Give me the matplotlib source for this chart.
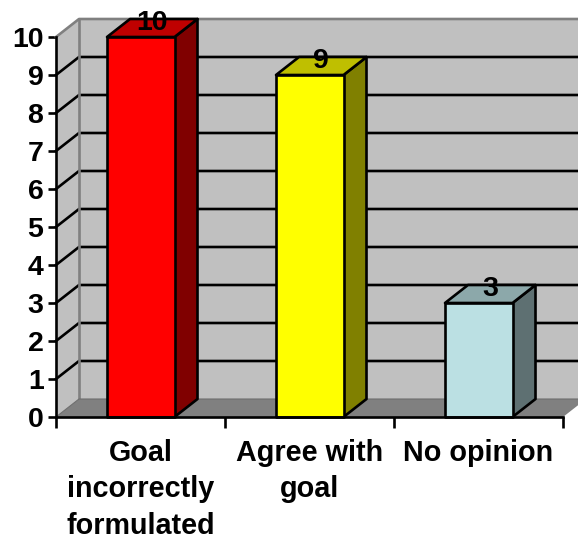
import matplotlib
matplotlib.use("Agg")
import matplotlib.pyplot as plt
from matplotlib.patches import Polygon

plt.rcParams["font.family"] = ["Liberation Sans", "DejaVu Sans"]
plt.rcParams["font.weight"] = "bold"

# chart values
categories = ["Goal\nincorrectly\nformulated", "Agree with\ngoal", "No opinion"]
values = [10, 9, 3]
y_ticks = list(range(0, 11))

# face, top and side shades for each bar
front_colors = ["#FF0000", "#FFFF00", "#BBE0E3"]
top_colors = ["#BF0000", "#BFBF00", "#8CA8AA"]
side_colors = ["#800000", "#808000", "#5E7072"]

W, H = 578, 538
LW = 1.9
fig = plt.figure(figsize=(W / 100, H / 100), dpi=100, facecolor="white")
ax = fig.add_axes([56 / W, 1 - 417 / H, (563 - 56) / W, (417 - 37) / H])
ax.set_xlim(0, 3)
ax.set_ylim(0, 10)
ax.patch.set_visible(False)

# oblique depth in data units (23 px across, 18 px up)
DX = 23 / 169
DY = 18 / 38
BAR_W = 67.5 / 169
BAR_OFF = 51 / 169


def poly(pts, fc, ec="none", lw=0, z=1):
    ax.add_patch(Polygon(pts, closed=True, facecolor=fc, edgecolor=ec, linewidth=lw,
                         zorder=z, clip_on=False, joinstyle="round"))


# walls and floor
GREY = "#808080"
poly([(DX, DY), (3 + DX, DY), (3 + DX, 10 + DY), (DX, 10 + DY)], "#C0C0C0")
poly([(0, 0), (DX, DY), (DX, 10 + DY), (0, 10)], "#C0C0C0")
poly([(0, 0), (3, 0), (3 + DX, DY), (DX, DY)], GREY)

# gridlines run along the side wall and across the back wall
for v in y_ticks[1:-1]:
    ax.plot([0, DX, 3 + DX], [v, v + DY, v + DY], color="black", lw=LW, zorder=2,
            clip_on=False, solid_joinstyle="miter")

# wall outline
ax.plot([0, DX, 3 + DX], [10, 10 + DY, 10 + DY], color=GREY, lw=LW, zorder=2, clip_on=False)
ax.plot([DX, DX], [DY, 10 + DY], color=GREY, lw=LW, zorder=2, clip_on=False)
ax.plot([0, DX, 3 + DX], [0, DY, DY], color="#6E6E6E", lw=0.8, zorder=2, clip_on=False)

# bars
for i, v in enumerate(values):
    x0 = i + BAR_OFF
    x1 = x0 + BAR_W
    poly([(x1, 0), (x1 + DX, DY), (x1 + DX, v + DY), (x1, v)], side_colors[i], "black", LW, 3)
    poly([(x0, v), (x1, v), (x1 + DX, v + DY), (x0 + DX, v + DY)], top_colors[i], "black", LW, 3)
    poly([(x0, 0), (x1, 0), (x1, v), (x0, v)], front_colors[i], "black", LW, 4)
    ax.text((x0 + x1) / 2 + DX / 2, v + 0.37, str(v), ha="center", va="center",
            fontsize=20.5, fontweight="bold", color="black", zorder=6, clip_on=False)

# axes
for s in ["top", "right"]:
    ax.spines[s].set_visible(False)
for s in ["left", "bottom"]:
    ax.spines[s].set_linewidth(LW)
    ax.spines[s].set_zorder(5)
ax.set_yticks(y_ticks)
ax.tick_params(axis="y", length=6, width=LW, labelsize=20.5, pad=3)
ax.set_xticks([0, 1, 2, 3])
ax.set_xticklabels([])
ax.tick_params(axis="x", length=8, width=LW)
ax.set_xticks([0.5, 1.5, 2.5], minor=True)
ax.set_xticklabels(categories, minor=True, fontsize=20.7, fontweight="bold", linespacing=1.37)
ax.tick_params(axis="x", which="minor", length=0, pad=16)

fig.savefig("out.png", dpi=100)
